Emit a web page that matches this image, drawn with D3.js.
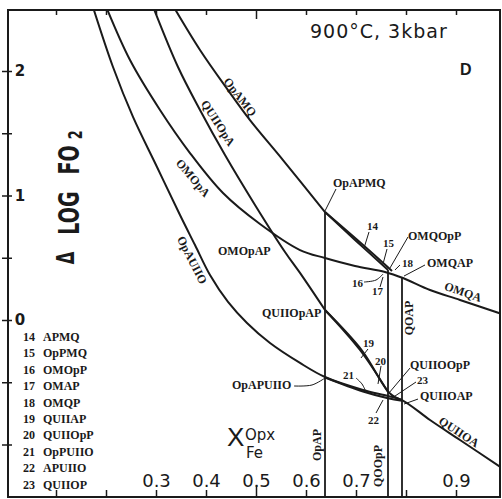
<!DOCTYPE html>
<html><head><meta charset="utf-8">
<script src="https://cdn.jsdelivr.net/npm/d3@7"></script>
<style>body{margin:0;background:#fff}</style>
</head><body>
<svg id="c" width="502" height="499"></svg>
<script>
// ---------- data (x = X_Fe^Opx, y = Δ log fO2) ----------
const curveOpAMQ   = [[0.332,2.538],[0.388,2.169],[0.444,1.847],[0.488,1.606],[0.554,1.285],[0.638,0.867]];
const curveAPMQ    = [[0.638,0.867],[0.698,0.643],[0.764,0.402]];
const curveOpPMQ   = [[0.638,0.867],[0.704,0.638],[0.772,0.394]];
const curveQUIIOpA = [[0.292,2.538],[0.344,2.032],[0.388,1.687],[0.438,1.325],[0.498,0.924],[0.558,0.546],[0.588,0.378],[0.638,0.080]];
const curveQUIIAP  = [[0.638,0.080],[0.708,-0.241],[0.764,-0.578]];
const curveQUIIOpP = [[0.638,0.080],[0.712,-0.245],[0.768,-0.590],[0.792,-0.643]];
const curveOMOpA   = [[0.198,2.538],[0.248,2.088],[0.308,1.687],[0.368,1.341],[0.434,1.020],[0.508,0.771],[0.588,0.562],[0.638,0.498],[0.698,0.434],[0.758,0.386],[0.794,0.337],[0.848,0.241],[0.908,0.161],[0.998,0.040]];
const curveOpAUIIO = [[0.172,2.538],[0.214,2.032],[0.254,1.631],[0.302,1.229],[0.348,0.843],[0.378,0.602],[0.408,0.361],[0.444,0.145],[0.482,-0.024],[0.528,-0.185],[0.588,-0.345],[0.638,-0.458],[0.714,-0.562],[0.764,-0.610],[0.792,-0.643],[0.848,-0.803],[0.908,-0.964],[0.998,-1.205]];
const curveOpPUIIO = [[0.638,-0.462],[0.714,-0.574],[0.764,-0.628],[0.792,-0.648]];
const curves = [curveOpAMQ, curveAPMQ, curveOpPMQ, curveQUIIOpA, curveQUIIAP, curveQUIIOpP, curveOMOpA, curveOpAUIIO, curveOpPUIIO];

// vertical reactions: [x, top y]
const verticalX   = [0.638, 0.764, 0.792];
const verticalTop = [0.867, 0.402, 0.345];

const xTickValues = [0.1,0.2,0.3,0.4,0.5,0.6,0.7,0.8,0.9];
const xTickLabels = ["","","0.3","0.4","0.5","0.6","0.7","","0.9"];
const yTickValues = [-1,-0.5,0,0.5,1,1.5,2];
const yLabelValues = [0,1,2];

const legendNums  = ["14","15","16","17","18","19","20","21","22","23"];
const legendNames = ["APMQ","OpPMQ","OMOpP","OMAP","OMQP","QUIIAP","QUIIOpP","OpPUIIO","APUIIO","QUIIOP"];

// curve labels: text, x, y (data), rotation
const rotLabels = [
  ["OpAMQ",0.468,1.791,52],["QUIIOpA",0.424,1.582,57],["OMOpA",0.374,1.141,50],
  ["OpAUIIO",0.372,0.482,63],["OMQA",0.914,0.225,19],["QUIIOA",0.906,-0.900,33],
  ["OpAP",0.622,-1.004,-90],["QOOpP",0.744,-1.173,-90],["QOAP",0.806,0.016,-90]
];
// horizontal labels: text, x, y (data, start / baseline), size
const hLabels = [
  ["OpAPMQ",0.654,1.068,12],["OMOpAP",0.424,0.522,12],["QUIIOpAP",0.512,0.024,12],
  ["OpAPUIIO",0.452,-0.554,12],["OMQOpP",0.804,0.643,12],["OMQAP",0.842,0.426,12],
  ["QUIIOOpP",0.808,-0.394,12],["QUIIOAP",0.828,-0.643,12],
  ["14",0.722,0.723,11],["15",0.754,0.586,11],["18",0.792,0.426,11],["16",0.692,0.265,11],
  ["17",0.732,0.201,11],["19",0.714,-0.217,11],["20",0.738,-0.361,11],["21",0.674,-0.474,11],
  ["23",0.822,-0.514,11],["22",0.724,-0.835,11]
];
const leaders = [
  [[0.660,1.052],[0.638,0.876]],
  [[0.576,-0.530],[0.612,-0.522],[0.638,-0.466]],
  [[0.726,0.707],[0.716,0.578]],
  [[0.762,0.570],[0.754,0.450]],
  [[0.804,0.667],[0.768,0.418]],
  [[0.788,0.442],[0.778,0.402]],
  [[0.838,0.442],[0.796,0.353]],
  [[0.716,0.305],[0.740,0.321],[0.754,0.369]],
  [[0.748,0.265],[0.754,0.345]],
  [[0.724,-0.233],[0.710,-0.305]],
  [[0.750,-0.369],[0.744,-0.514]],
  [[0.700,-0.466],[0.712,-0.514],[0.720,-0.578]],
  [[0.808,-0.386],[0.766,-0.586]],
  [[0.820,-0.498],[0.772,-0.627]],
  [[0.824,-0.635],[0.796,-0.675]],
  [[0.740,-0.747],[0.754,-0.643]]
];

// ---------- drawing ----------
const svg = d3.select("#c");
const frame = {l:8,t:10,r:500,b:497};
const x = d3.scaleLinear().domain([0,1]).range([6,506]);
const y = d3.scaleLinear().domain([0,2]).range([320,71]);
const ink = "#1a1a1a";
const serif = "'Liberation Serif','Times New Roman',serif";
const sans = "'DejaVu Sans',sans-serif";

svg.append("rect").attr("width",502).attr("height",499).attr("fill","#fff");
svg.append("clipPath").attr("id","clip").append("rect")
  .attr("x",frame.l).attr("y",frame.t).attr("width",frame.r-frame.l).attr("height",frame.b-frame.t);

const line = d3.line().x(d=>x(d[0])).y(d=>y(d[1])).curve(d3.curveCatmullRom.alpha(0.5));
const lin = d3.line().x(d=>x(d[0])).y(d=>y(d[1]));
const plot = svg.append("g").attr("clip-path","url(#clip)");

curves.forEach(c => plot.append("path").attr("d",line(c)).attr("fill","none")
  .attr("stroke",ink).attr("stroke-width",2));
verticalX.forEach((vx,i) => plot.append("path").attr("d",lin([[vx,verticalTop[i]],[vx,-1.6]]))
  .attr("fill","none").attr("stroke",ink).attr("stroke-width",1.8));
leaders.forEach(l => plot.append("path").attr("d",line(l)).attr("fill","none")
  .attr("stroke",ink).attr("stroke-width",1));

// frame
svg.append("rect").attr("x",frame.l).attr("y",frame.t).attr("width",frame.r-frame.l).attr("height",frame.b-frame.t)
  .attr("fill","none").attr("stroke",ink).attr("stroke-width",2);

// axes
const topAx = svg.append("g").attr("transform",`translate(0,${frame.t})`)
  .call(d3.axisBottom(x).tickValues(xTickValues).tickSize(5).tickSizeOuter(0).tickFormat(""));
topAx.select(".domain").remove();
topAx.selectAll(".tick line").attr("stroke",ink).attr("stroke-width",1.5).filter(d=>d===0.5).attr("y2",9);

const botAx = svg.append("g").attr("transform",`translate(0,${frame.b})`)
  .call(d3.axisTop(x).tickValues(xTickValues).tickSize(7).tickSizeOuter(0).tickPadding(3)
    .tickFormat((d,i)=>xTickLabels[i]));
botAx.select(".domain").remove();
botAx.selectAll(".tick line").attr("stroke",ink).attr("stroke-width",1.5).filter(d=>d===0.5).attr("y2",-12);
botAx.selectAll(".tick text").attr("font-family",sans).attr("font-size",18).attr("fill",ink);

const leftAx = svg.append("g").attr("transform",`translate(12,0)`)
  .call(d3.axisLeft(y).tickValues(yTickValues).tickSize(10).tickSizeOuter(0).tickFormat(""));
leftAx.select(".domain").remove();
leftAx.selectAll(".tick line").attr("stroke",ink).attr("stroke-width",1.5);

svg.selectAll(".ylab").data(yLabelValues).join("text")
  .attr("x",20).attr("y",d=>y(d)+5).attr("text-anchor","middle")
  .attr("font-family",sans).attr("font-weight","bold").attr("font-size",15).attr("fill",ink)
  .text(d=>d);

// curve labels
rotLabels.forEach(([t,vx,vy,r]) => svg.append("text")
  .attr("transform",`translate(${x(vx)},${y(vy)}) rotate(${r})`)
  .attr("text-anchor","middle").attr("dominant-baseline","central")
  .attr("font-family",serif).attr("font-weight","bold").attr("font-size",12).attr("fill",ink).text(t));
hLabels.forEach(([t,vx,vy,s]) => svg.append("text")
  .attr("x",x(vx)).attr("y",y(vy))
  .attr("font-family",serif).attr("font-weight","bold").attr("font-size",s).attr("fill",ink).text(t));

// legend
legendNums.forEach((n,i) => {
  const yy = 341 + i*16.4;
  svg.append("text").attr("x",23).attr("y",yy).attr("font-family",serif).attr("font-weight","bold")
    .attr("font-size",12).attr("fill",ink).text(n);
  svg.append("text").attr("x",43).attr("y",yy).attr("font-family",serif).attr("font-weight","bold")
    .attr("font-size",12).attr("fill",ink).text(legendNames[i]);
});

// title & panel letter
svg.append("text").attr("x",310).attr("y",38).attr("font-family",sans).attr("font-size",19)
  .attr("letter-spacing",1).attr("fill",ink).text("900°C, 3kbar");
svg.append("text").attr("x",460).attr("y",75).attr("font-family","'Liberation Sans',sans-serif")
  .attr("font-weight","bold").attr("font-size",16).attr("fill",ink).text("D");

// y axis title
const yt = svg.append("g").attr("transform","translate(79,196) rotate(-90) scale(0.68,1)")
  .attr("font-family",sans).attr("font-weight","bold").attr("fill",ink).attr("text-anchor","middle");
yt.append("text").attr("x",-91).attr("y",-5).attr("font-size",24).text("Δ");
yt.append("text").attr("x",-25).attr("y",0).attr("font-size",28).text("LOG");
yt.append("text").attr("x",53).attr("y",0).attr("font-size",28).text("FO");
yt.append("text").attr("x",90).attr("y",3).attr("font-size",19).text("2");

// x axis title
svg.append("text").attr("x",227).attr("y",446).attr("font-family","'Liberation Sans',sans-serif")
  .attr("font-size",26).attr("fill",ink).text("X");
svg.append("text").attr("x",245).attr("y",440).attr("font-family",sans)
  .attr("font-size",15).attr("fill",ink).text("Opx");
svg.append("text").attr("x",246).attr("y",458).attr("font-family",sans)
  .attr("font-size",15).attr("fill",ink).text("Fe");
</script>
</body></html>
